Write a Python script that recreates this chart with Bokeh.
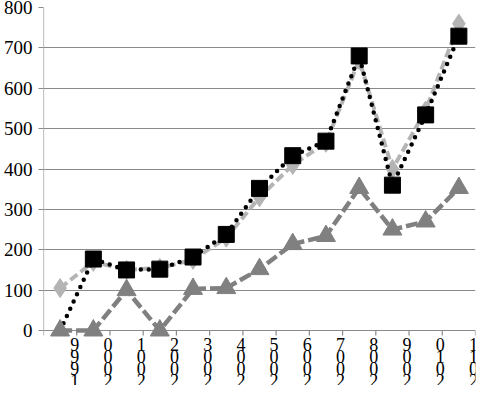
from bokeh.plotting import figure
from bokeh.models import Range1d, FixedTicker
from bokeh.core.properties import value
from bokeh.embed import file_html
from bokeh.resources import INLINE

years = ["1999", "2000", "2001", "2002", "2003", "2004", "2005",
         "2006", "2007", "2008", "2009", "2010", "2011"]
series_light = [105, 170, 150, 155, 175, 230, 330, 410, 465, 670, 400, 545, 760]
series_black = [0, 177, 150, 152, 182, 238, 352, 433, 469, 680, 360, 534, 729]
series_gray = [0, 0, 100, 0, 103, 105, 152, 214, 234, 353, 250, 270, 353]
y_ticks = [0, 100, 200, 300, 400, 500, 600, 700, 800]

# layout constants (pixels)
W, H = 477, 385
TOP, BOTTOM_AREA = 7, 55          # frame top border, space below the zero line
frame_px = H - TOP                # frame height (no bottom border)
y_max = 800
px_per_unit = (frame_px - BOTTOM_AREA) / y_max
y_min = -BOTTOM_AREA / px_per_unit

FONT = "'Liberation Serif'"
GRID = "#8a8a8a"
n = len(years)
xs = [i + 0.5 for i in range(n)]

p = figure(width=W, height=H, output_backend="svg", toolbar_location=None,
           x_range=Range1d(0, n), y_range=Range1d(y_min, y_max),
           x_axis_location=None,
           min_border_left=40, min_border_right=2, min_border_top=TOP,
           min_border_bottom=0)
p.outline_line_color = None
p.background_fill_color = "white"
p.border_fill_color = "white"

p.xgrid.grid_line_color = None
p.ygrid.grid_line_color = GRID
p.ygrid.grid_line_width = 1.2

# y axis (line drawn manually so it stops at zero)
p.yaxis.ticker = FixedTicker(ticks=y_ticks)
p.yaxis.axis_line_color = None
p.yaxis.major_tick_line_color = GRID
p.yaxis.major_tick_line_width = 1.2
p.yaxis.major_tick_out = 5
p.yaxis.major_tick_in = 0
p.yaxis.minor_tick_line_color = None
p.yaxis.major_label_text_font = FONT
p.yaxis.major_label_text_font_size = "19px"
p.yaxis.major_label_text_color = "black"
p.yaxis.major_label_standoff = 6
p.segment(x0=[0], y0=[0], x1=[0], y1=[y_max], line_color=GRID, line_width=1.2)

# category axis tick marks below zero line
tick_x = list(range(n + 1))
tick_len = 5 / px_per_unit
p.segment(x0=tick_x, y0=[0] * len(tick_x), x1=tick_x,
          y1=[-tick_len] * len(tick_x), line_color=GRID, line_width=1.2)

# light gray diamonds, dashed
p.line(xs, series_light, line_color="#b4b4b4", line_width=4, line_dash="9 4")
p.scatter(xs, series_light, marker="diamond", size=19, fill_color="#b4b4b4",
          line_color="#b4b4b4")

# black squares, dotted
p.line(xs, series_black, line_color="black", line_width=4.5, line_dash="0 8",
       line_cap="round")
p.scatter(xs[1:], series_black[1:], marker="square", size=16, fill_color="black",
          line_color="black")

# medium gray triangles, dashed
p.line(xs, series_gray, line_color="#808080", line_width=4.5, line_dash="12 4")
p.scatter(xs, series_gray, marker="triangle", size=19, fill_color="#808080",
          line_color="#808080")

# stacked upright year labels (read bottom-to-top) under each tick
lx, ly, lt = [], [], []
for i, yr in enumerate(years):
    for k, ch in enumerate(reversed(yr)):
        lx.append(i + 1)
        ly.append(-(7 + 12 * k) / px_per_unit)
        lt.append(ch)
p.text(x=lx, y=ly, text=lt, text_font=value(FONT), text_font_size="18px",
       text_align="center", text_baseline="top", x_offset=-2,
       text_color="black")

open("out.html", "w").write(file_html(p, INLINE))
